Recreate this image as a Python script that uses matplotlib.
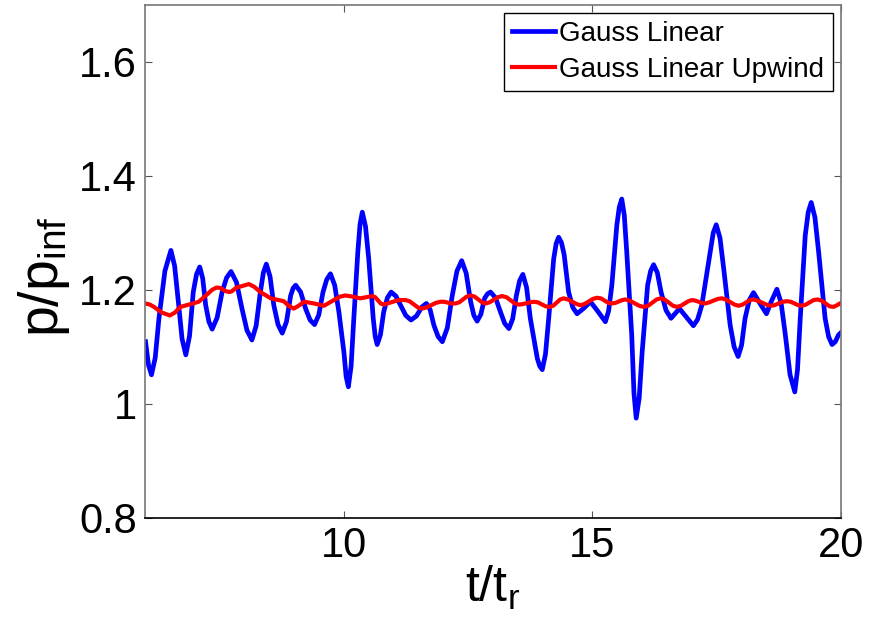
import matplotlib
matplotlib.use("Agg")
import matplotlib.pyplot as plt

# ---- data (extrema, mid-slope and shoulder points) ----
t_gauss = [6.01, 6.07, 6.13, 6.205, 6.28, 6.40, 6.52, 6.595, 6.67, 6.745,
           6.82, 6.895, 6.97, 7.035, 7.10, 7.16, 7.22, 7.285, 7.35, 7.45,
           7.55, 7.64, 7.73, 7.84, 7.95, 8.05, 8.15, 8.235, 8.32, 8.38,
           8.44, 8.515, 8.59, 8.675, 8.76, 8.845, 8.93, 8.98, 9.03, 9.13,
           9.23, 9.32, 9.41, 9.495, 9.58, 9.655, 9.73, 9.815, 9.90, 10.00,
           10.045, 10.09, 10.145, 10.20, 10.28, 10.325, 10.37, 10.435, 10.50, 10.59,
           10.63, 10.67, 10.735, 10.80, 10.875, 10.95, 11.045, 11.14, 11.245, 11.35,
           11.46, 11.57, 11.66, 11.735, 11.81, 11.895, 11.98, 12.08, 12.18, 12.275,
           12.37, 12.46, 12.55, 12.615, 12.68, 12.755, 12.83, 12.89, 12.95, 13.05,
           13.15, 13.235, 13.32, 13.395, 13.47, 13.535, 13.60, 13.675, 13.75, 13.89,
           13.94, 13.99, 14.055, 14.12, 14.22, 14.27, 14.32, 14.375, 14.43, 14.52,
           14.605, 14.69, 14.83, 14.96, 15.11, 15.26, 15.325, 15.39, 15.49, 15.54,
           15.59, 15.64, 15.69, 15.79, 15.835, 15.88, 15.94, 16.00, 16.11, 16.17,
           16.23, 16.305, 16.38, 16.48, 16.58, 16.75, 16.89, 17.03, 17.115, 17.20,
           17.37, 17.43, 17.49, 17.565, 17.64, 17.77, 17.85, 17.93, 18.00, 18.07,
           18.155, 18.24, 18.37, 18.50, 18.60, 18.71, 18.795, 18.88, 18.975, 19.07,
           19.125, 19.18, 19.28, 19.34, 19.40, 19.475, 19.55, 19.68, 19.75, 19.82,
           19.885, 19.95, 20.00]
p_gauss = [1.109, 1.068, 1.051, 1.081, 1.150, 1.233, 1.269, 1.242, 1.179, 1.114,
           1.086, 1.119, 1.196, 1.227, 1.240, 1.220, 1.173, 1.144, 1.131, 1.151,
           1.196, 1.221, 1.232, 1.213, 1.167, 1.129, 1.112, 1.137, 1.196, 1.230,
           1.245, 1.223, 1.173, 1.139, 1.124, 1.144, 1.190, 1.203, 1.208, 1.196,
           1.167, 1.147, 1.139, 1.156, 1.196, 1.218, 1.228, 1.208, 1.161, 1.091,
           1.048, 1.030, 1.066, 1.150, 1.266, 1.315, 1.336, 1.311, 1.254, 1.150,
           1.118, 1.104, 1.121, 1.161, 1.186, 1.196, 1.189, 1.173, 1.155, 1.147,
           1.154, 1.170, 1.176, 1.165, 1.138, 1.118, 1.109, 1.133, 1.190, 1.233,
           1.251, 1.229, 1.179, 1.155, 1.145, 1.157, 1.185, 1.193, 1.196, 1.186,
           1.161, 1.141, 1.132, 1.149, 1.190, 1.216, 1.227, 1.204, 1.150, 1.080,
           1.066, 1.060, 1.087, 1.150, 1.254, 1.281, 1.292, 1.283, 1.262, 1.196,
           1.169, 1.158, 1.168, 1.179, 1.162, 1.144, 1.163, 1.208, 1.313, 1.345,
           1.359, 1.331, 1.266, 1.121, 1.019, 0.975, 1.010, 1.091, 1.208, 1.233,
           1.244, 1.230, 1.196, 1.164, 1.150, 1.167, 1.152, 1.137, 1.148, 1.173,
           1.266, 1.300, 1.314, 1.291, 1.237, 1.138, 1.100, 1.083, 1.103, 1.150,
           1.182, 1.195, 1.176, 1.158, 1.180, 1.201, 1.177, 1.121, 1.051, 1.021,
           1.060, 1.150, 1.295, 1.336, 1.353, 1.327, 1.266, 1.150, 1.118, 1.104,
           1.109, 1.121, 1.125]

t_upwind = [6.01, 6.10, 6.18, 6.34, 6.50, 6.60, 6.71, 6.88, 7.08, 7.25,
            7.35, 7.44, 7.52, 7.61, 7.69, 7.74, 7.84, 7.89, 8.09, 8.20,
            8.32, 8.53, 8.79, 8.89, 8.99, 9.09, 9.20, 9.40, 9.60, 9.80,
            9.92, 10.03, 10.18, 10.33, 10.45, 10.57, 10.63, 10.74, 10.80, 10.95,
            11.10, 11.24, 11.32, 11.49, 11.57, 11.66, 11.85, 11.94, 12.02, 12.16,
            12.24, 12.32, 12.47, 12.55, 12.63, 12.78, 12.85, 12.93, 13.10, 13.18,
            13.27, 13.44, 13.52, 13.60, 13.75, 13.82, 13.90, 14.06, 14.14, 14.21,
            14.35, 14.42, 14.51, 14.68, 14.76, 14.84, 15.01, 15.09, 15.17, 15.32,
            15.39, 15.46, 15.60, 15.66, 15.75, 15.94, 16.03, 16.12, 16.29, 16.37,
            16.45, 16.62, 16.70, 16.78, 16.93, 17.00, 17.07, 17.20, 17.27, 17.35,
            17.52, 17.60, 17.68, 17.86, 17.94, 18.02, 18.17, 18.24, 18.32, 18.50,
            18.58, 18.66, 18.83, 18.91, 18.99, 19.14, 19.21, 19.29, 19.45, 19.53,
            19.61, 19.77, 19.85, 19.92, 20.00]
p_upwind = [1.176, 1.174, 1.170, 1.160, 1.155, 1.160, 1.170, 1.174, 1.179, 1.192,
            1.200, 1.204, 1.203, 1.198, 1.196, 1.197, 1.204, 1.205, 1.210, 1.205,
            1.196, 1.185, 1.180, 1.172, 1.167, 1.172, 1.179, 1.176, 1.172, 1.182,
            1.188, 1.190, 1.188, 1.185, 1.187, 1.189, 1.187, 1.176, 1.174, 1.178,
            1.182, 1.182, 1.180, 1.169, 1.167, 1.169, 1.177, 1.179, 1.179, 1.176,
            1.176, 1.178, 1.188, 1.190, 1.188, 1.178, 1.176, 1.178, 1.187, 1.189,
            1.187, 1.176, 1.174, 1.175, 1.178, 1.179, 1.178, 1.171, 1.170, 1.172,
            1.183, 1.185, 1.183, 1.175, 1.173, 1.175, 1.184, 1.186, 1.185, 1.177,
            1.176, 1.177, 1.182, 1.183, 1.181, 1.172, 1.170, 1.172, 1.183, 1.185,
            1.183, 1.172, 1.170, 1.172, 1.180, 1.182, 1.181, 1.177, 1.176, 1.178,
            1.184, 1.185, 1.183, 1.174, 1.172, 1.174, 1.182, 1.183, 1.181, 1.174,
            1.172, 1.173, 1.179, 1.180, 1.179, 1.173, 1.172, 1.174, 1.182, 1.183,
            1.181, 1.171, 1.170, 1.173, 1.177]

x_ticks = [10, 15, 20]
y_ticks = [0.8, 1.0, 1.2, 1.4, 1.6]
y_ticklabels = ["0.8", "1", "1.2", "1.4", "1.6"]

plt.rcParams["font.family"] = ["Liberation Sans", "DejaVu Sans"]
plt.rcParams["mathtext.fontset"] = "custom"
plt.rcParams["mathtext.rm"] = "Liberation Sans"
plt.rcParams["mathtext.it"] = "Liberation Sans"

fig = plt.figure(figsize=(8.69, 6.29), dpi=100)
ax = fig.add_axes([0.1669, 0.1765, 0.8009, 0.8163])

ax.plot(t_gauss, p_gauss, color="#0000ff", lw=3.4, solid_joinstyle="round",
        label="Gauss Linear")
ax.plot(t_upwind, p_upwind, color="#ff0000", lw=3.0, solid_joinstyle="round",
        label="Gauss Linear Upwind")

ax.set_xlim(6, 20)
ax.set_ylim(0.8, 1.7)
ax.set_xticks(x_ticks)
ax.set_yticks(y_ticks)
ax.set_yticklabels(y_ticklabels)
ax.tick_params(direction="in", length=5, width=0.8, color="#555555",
               labelsize=30, pad=6, top=True, right=True)

for side in ["top", "right", "left"]:
    ax.spines[side].set_color("#777777")
    ax.spines[side].set_linewidth(1.2)
ax.spines["bottom"].set_color("black")
ax.spines["bottom"].set_linewidth(1.2)

ax.set_xlabel(r"$\mathrm{t/t_r}$", fontsize=36, labelpad=-2)
ax.set_ylabel(r"$\mathrm{p/p_{inf}}$", fontsize=40, labelpad=0)
ax.yaxis.set_label_coords(-0.105, 0.47)

leg = ax.legend(loc="upper right", fontsize=20, fancybox=False, framealpha=1,
                edgecolor="black", handlelength=1.55, handletextpad=0.15,
                labelspacing=0.35, borderpad=0.3, borderaxespad=0.3)
leg.get_frame().set_linewidth(1.0)

fig.savefig("out.png", dpi=100)
